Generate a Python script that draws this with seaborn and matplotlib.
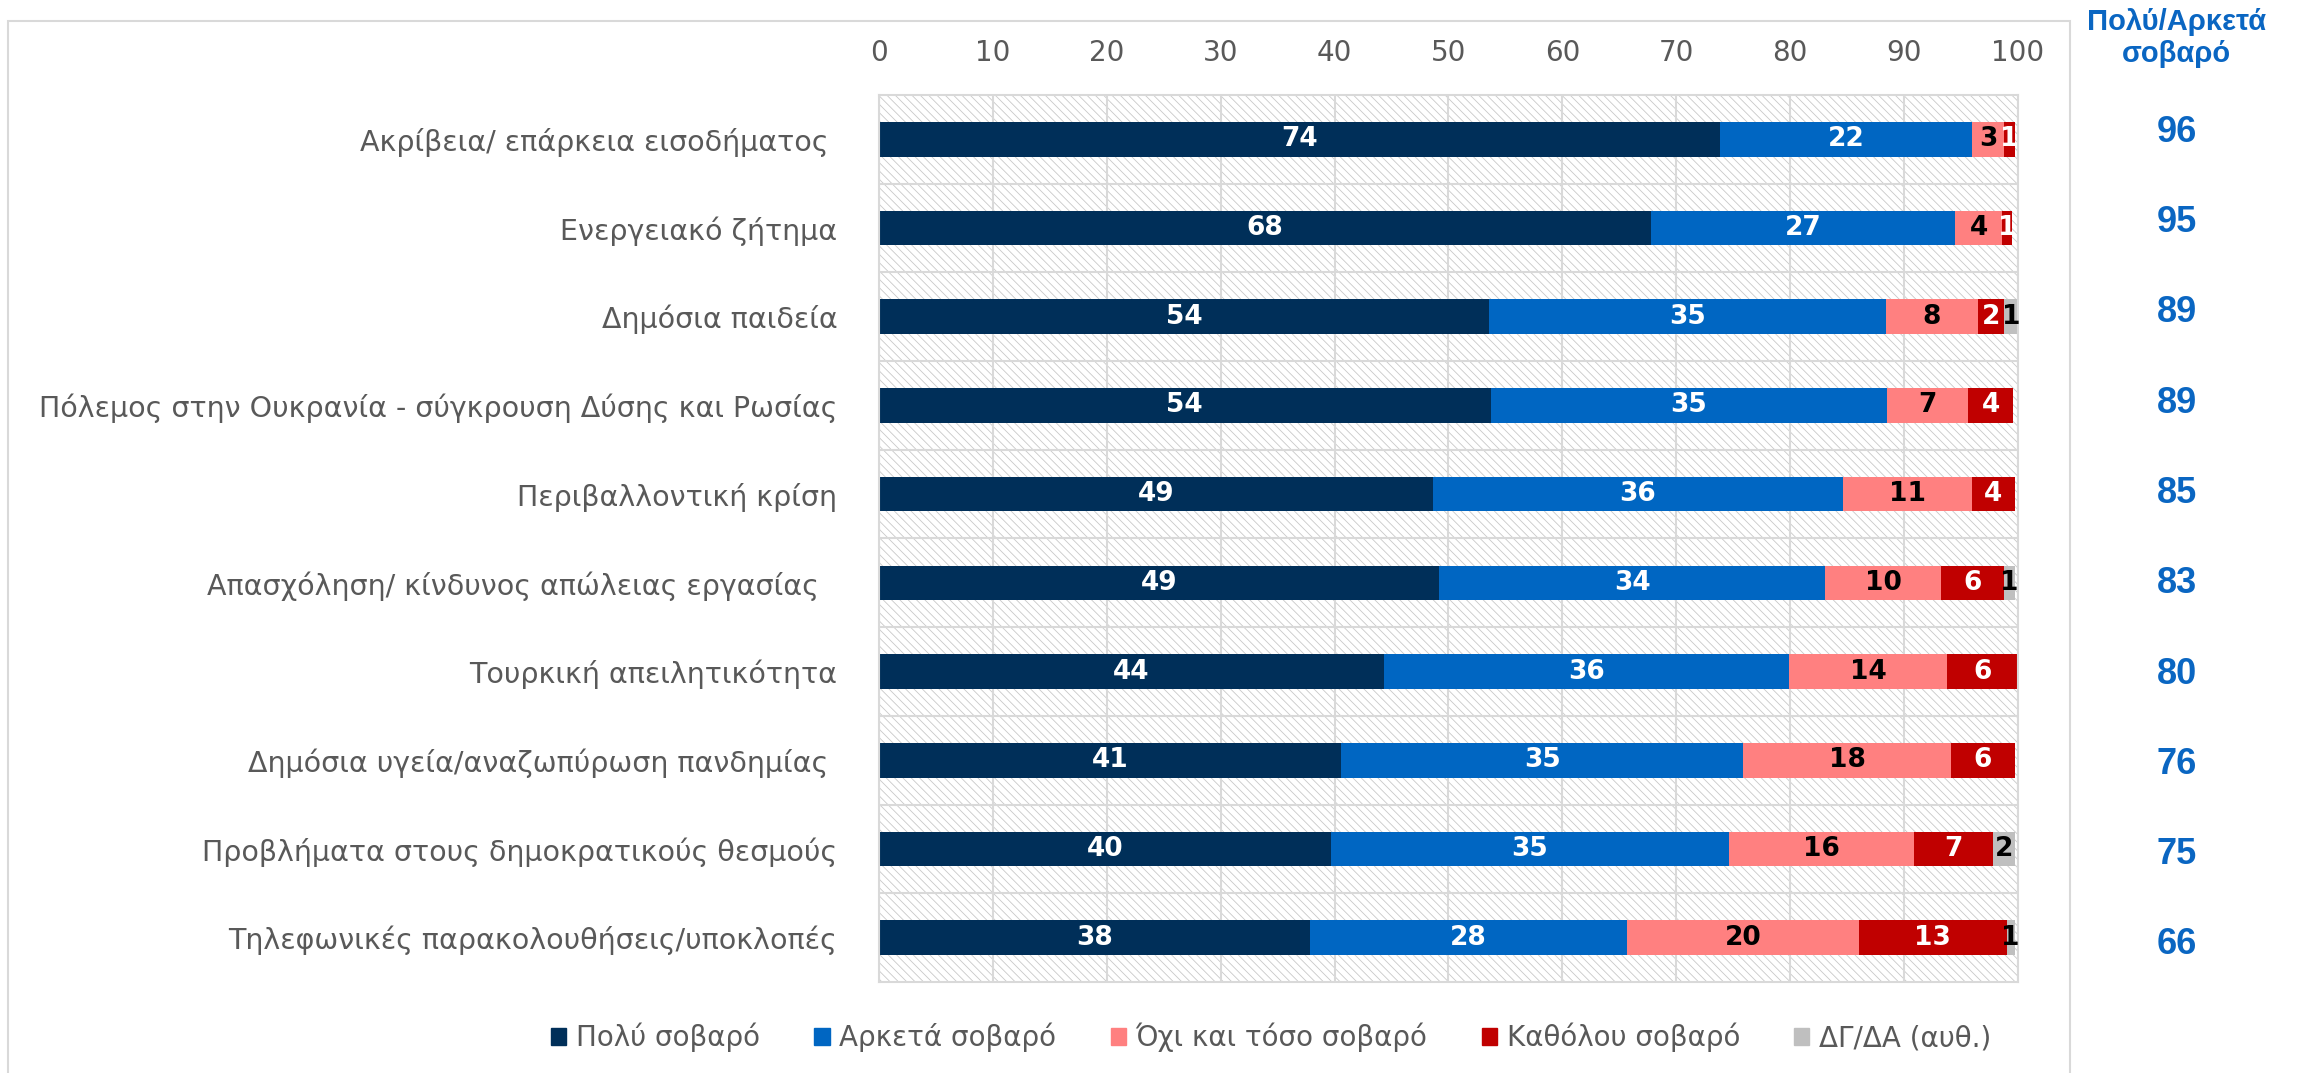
import matplotlib
matplotlib.use('Agg')
import matplotlib.pyplot as plt
import matplotlib.patches as mpatches
import matplotlib.transforms as mtransforms
import numpy as np
import seaborn as sns

# Data
categories = [
    'Ακρίβεια/ επάρκεια εισοδήματος ',
    'Ενεργειακό ζήτημα',
    'Δημόσια παιδεία',
    'Πόλεμος στην Ουκρανία - σύγκρουση Δύσης και Ρωσίας',
    'Περιβαλλοντική κρίση',
    'Απασχόληση/ κίνδυνος απώλειας εργασίας  ',
    'Τουρκική απειλητικότητα',
    'Δημόσια υγεία/αναζωπύρωση πανδημίας ',
    'Προβλήματα στους δημοκρατικούς θεσμούς',
    'Τηλεφωνικές παρακολουθήσεις/υποκλοπές',
]
very_serious = [73.8, 67.8, 53.6, 53.7, 48.6, 49.2, 44.3, 40.6, 39.7, 37.8]
quite_serious = [22.2, 26.7, 34.8, 34.8, 36.0, 33.9, 35.6, 35.3, 34.9, 27.9]
not_so_serious = [2.8, 4.1, 8.1, 7.1, 11.4, 10.1, 13.9, 18.2, 16.3, 20.3]
not_at_all = [0.9, 0.9, 2.3, 4.0, 3.7, 5.6, 6.2, 5.6, 6.9, 13.0]
dk_na = [0.0, 0.0, 1.2, 0.0, 0.0, 0.9, 0.0, 0.0, 1.9, 0.7]
very_quite_total = [96, 95, 89, 89, 85, 83, 80, 76, 75, 66]

series_names = ['Πολύ σοβαρό', 'Αρκετά σοβαρό', 'Όχι και τόσο σοβαρό',
                'Καθόλου σοβαρό', 'ΔΓ/ΔΑ (αυθ.)']
colors = ['#002F59', '#0066C2', '#FF8080', '#C00000', '#BFBFBF']
label_colors = ['white', 'white', 'black', 'white', 'black']
x_ticks = list(range(0, 101, 10))

sns.set_style('white')
plt.rcParams['font.family'] = ['DejaVu Sans']
plt.rcParams['hatch.linewidth'] = 0.6
grey_text = '#595959'
grid_col = '#D9D9D9'
narrow = ['Liberation Sans', 'DejaVu Sans']

series = np.array([very_serious, quite_serious, not_so_serious, not_at_all, dk_na])
cum = np.cumsum(series, axis=0)

fig = plt.figure(figsize=(23.01, 10.73), dpi=100)
ax = fig.add_axes([0.382, 0.0848, 0.495, 0.8267])

# hatched background of the plot area
ax.add_patch(mpatches.Rectangle((0, 0), 1, 1, transform=ax.transAxes,
                                facecolor='white', edgecolor='#C8C8C8',
                                hatch='\\\\\\\\', lw=0, zorder=0))

# stacked bars: draw cumulative totals from the widest to the narrowest
for i in range(len(series) - 1, -1, -1):
    sns.barplot(x=cum[i], y=categories, orient='h', color=colors[i],
                saturation=1, width=0.39, errorbar=None, linewidth=0, ax=ax)

# segment labels
for i in range(len(series)):
    for j in range(len(categories)):
        v = series[i, j]
        if v <= 0:
            continue
        ax.text(cum[i, j] - v / 2, j, f'{v:.0f}', ha='center', va='center',
                color=label_colors[i], fontsize=19, fontweight='bold', zorder=5)

ax.set_xlim(0, 100)
ax.set_ylim(len(categories) - 0.5, -0.5)
ax.set_xticks(x_ticks)
ax.set_yticks(np.arange(len(categories) - 1) + 0.5, minor=True)
ax.set_axisbelow(True)
ax.xaxis.grid(True, which='major', color=grid_col, lw=1.5)
ax.yaxis.grid(True, which='minor', color=grid_col, lw=1.5)
ax.tick_params(axis='x', top=True, labeltop=True, bottom=False, labelbottom=False,
               length=0, pad=20, labelsize=20, labelcolor=grey_text)
ax.tick_params(axis='y', which='both', length=0, pad=30, labelsize=20.5,
               labelcolor=grey_text)
ax.set_xlabel('')
ax.set_ylabel('')
for s in ax.spines.values():
    s.set_visible(True)
    s.set_color(grid_col)
    s.set_linewidth(1.5)

# right-hand column of totals
blue = '#0A66C2'
trans = mtransforms.blended_transform_factory(ax.transAxes, ax.transData)
for j, t in enumerate(very_quite_total):
    ax.text(1.1396, j - 0.08 + 0.018 * j, str(t), transform=trans, ha='center',
            va='center', color=blue, fontsize=26, fontweight='bold',
            family=narrow, clip_on=False)
fig.text(0.946, 0.9646, 'Πολύ/Αρκετά\nσοβαρό', ha='center', va='center',
         color=blue, fontsize=21, fontweight='bold', family=narrow,
         linespacing=1.15)

# outer frame
fig.add_artist(mpatches.Rectangle((8 / 2301, -0.05), (2070 - 8) / 2301,
                                  1.05 - 21 / 1073, transform=fig.transFigure,
                                  fill=False, edgecolor=grid_col, lw=1.5))

handles = [mpatches.Patch(color=c, label=n) for c, n in zip(colors, series_names)]
leg = fig.legend(handles=handles, loc='center', bbox_to_anchor=(0.5525, 0.033),
                 ncol=5, frameon=False, fontsize=20, handlelength=0.55,
                 handleheight=0.55, handletextpad=0.35, columnspacing=1.95)
for txt in leg.get_texts():
    txt.set_color(grey_text)

fig.savefig('out.png', dpi=100)
